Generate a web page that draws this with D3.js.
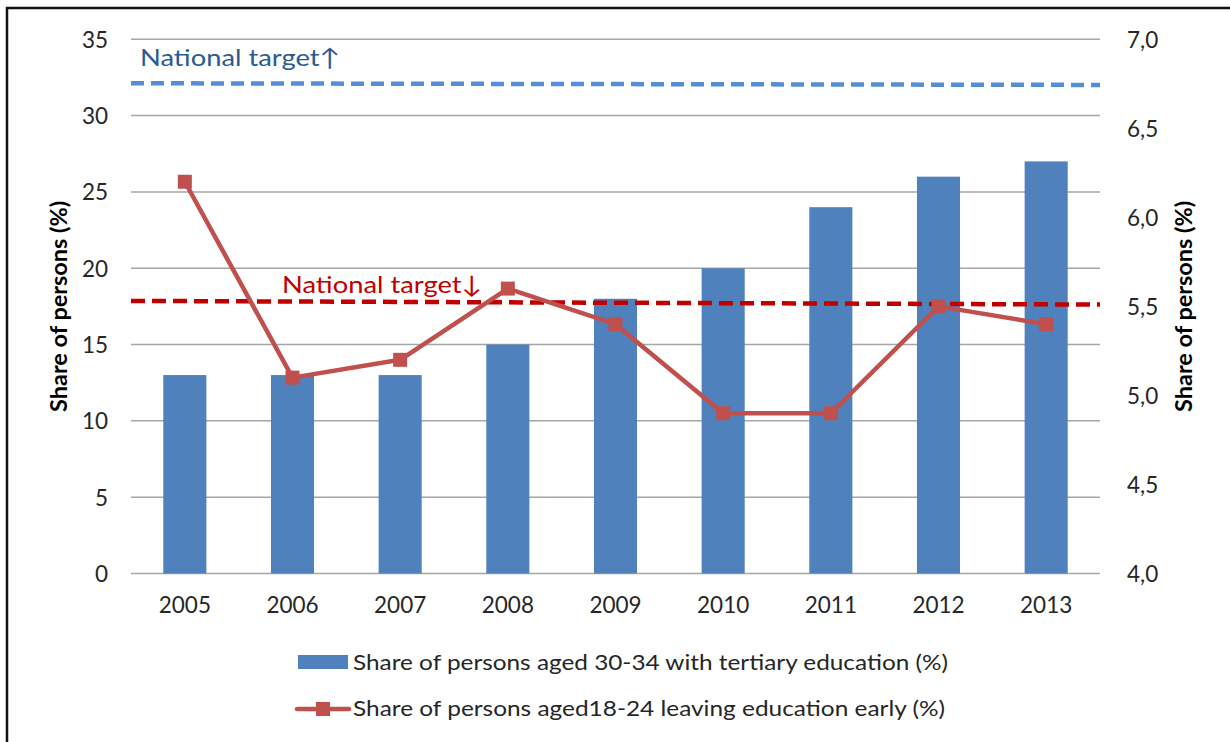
<!DOCTYPE html>
<html><head><meta charset="utf-8">
<script src="https://cdn.jsdelivr.net/npm/d3@7"></script>
<style>body{margin:0;background:#fff}svg{display:block}text{font-family:Lato,"Open Sans",sans-serif}</style>
</head><body><svg id="c" width="1230" height="742"></svg>
<script>
const years = ["2005","2006","2007","2008","2009","2010","2011","2012","2013"];
const tertiary = [13,13,13,15,18,20,24,26,27];
const earlyLeaving = [6.2,5.1,5.2,5.6,5.4,4.9,4.9,5.5,5.4];
const leftTicks = [0,5,10,15,20,25,30,35];
const rightTicks = [4.0,4.5,5.0,5.5,6.0,6.5,7.0];
const targetUp = [32.12,32.01];   // national target (tertiary), left axis
const targetDown = [17.86,17.62]; // national target (early leaving), left axis
const legendLabels = ["Share of persons aged 30-34 with tertiary education (%)","Share of persons aged18-24 leaving education early (%)"];
const axisTitle = "Share of persons (%)";

const svg = d3.select("#c");
const L=131, R=1100, T=39.3, B=573.5;
const x = d3.scaleBand().domain(years).range([L,R]).paddingInner(0.6).paddingOuter(0.3);
const yL = d3.scaleLinear().domain([0,35]).range([B,T]);
const yR = d3.scaleLinear().domain([4,7]).range([B,T]);
const txt="#262626";

// frame
svg.append("line").attr("x1",7).attr("x2",7).attr("y1",7).attr("y2",742).attr("stroke","#111").attr("stroke-width",2.5);
svg.append("line").attr("x1",6).attr("x2",1230).attr("y1",8).attr("y2",8).attr("stroke","#111").attr("stroke-width",2.5);

// gridlines
svg.append("g").selectAll("line").data(leftTicks).join("line")
  .attr("x1",L).attr("x2",R).attr("y1",d=>yL(d)).attr("y2",d=>yL(d))
  .attr("stroke","#A6A6A6").attr("stroke-width",1.5);

// left axis
const ga = svg.append("g").attr("transform",`translate(${L},0)`)
  .call(d3.axisLeft(yL).tickValues(leftTicks).tickSize(0).tickPadding(23));
ga.select(".domain").remove();
ga.selectAll("text").attr("font-size",22.5).attr("fill",txt).attr("font-family","Lato").attr("dy","0.35em");

// right axis
const gr = svg.append("g").attr("transform",`translate(${R},0)`)
  .call(d3.axisRight(yR).tickValues(rightTicks).tickSize(0).tickPadding(27).tickFormat(d=>d3.format(".1f")(d).replace(".",",")));
gr.select(".domain").remove();
gr.selectAll("text").attr("font-size",22.5).attr("fill",txt).attr("font-family","Lato").attr("dy","0.35em");

// x axis
const gx = svg.append("g").attr("transform",`translate(0,${B})`)
  .call(d3.axisBottom(x).tickSize(0).tickPadding(24));
gx.select(".domain").remove();
gx.selectAll("text").attr("font-size",22.5).attr("fill",txt).attr("font-family","Lato").attr("dy","0.71em");

// bars
svg.append("g").selectAll("rect").data(tertiary).join("rect")
  .attr("x",(d,i)=>x(years[i])).attr("width",x.bandwidth())
  .attr("y",d=>yL(d)).attr("height",d=>B-yL(d)).attr("fill","#4F81BD");

// target lines
svg.append("line").attr("x1",L).attr("x2",R).attr("y1",yL(targetUp[0])).attr("y2",yL(targetUp[1]))
  .attr("stroke","#558ED5").attr("stroke-width",4.5).attr("stroke-dasharray","13,7");
svg.append("line").attr("x1",L).attr("x2",R).attr("y1",yL(targetDown[0])).attr("y2",yL(targetDown[1]))
  .attr("stroke","#C00000").attr("stroke-width",4.5).attr("stroke-dasharray","14,7");

svg.append("text").attr("x",140).attr("y",66).attr("font-size",24).attr("fill","#2A5A94")
  .attr("textLength",200).attr("lengthAdjust","spacingAndGlyphs").text("National target\u2191");
svg.append("text").attr("x",282).attr("y",293).attr("font-size",24).attr("fill","#C00000")
  .attr("textLength",200).attr("lengthAdjust","spacingAndGlyphs").text("National target\u2193");

// red line
const cx = i => x(years[i])+x.bandwidth()/2;
svg.append("path").datum(earlyLeaving)
  .attr("d",d3.line().x((d,i)=>cx(i)).y(d=>yR(d)))
  .attr("fill","none").attr("stroke","#C0504D").attr("stroke-width",4.5).attr("stroke-linejoin","round");
svg.append("g").selectAll("rect").data(earlyLeaving).join("rect")
  .attr("x",(d,i)=>cx(i)-7).attr("y",d=>yR(d)-7).attr("width",14).attr("height",14).attr("fill","#C0504D");

// axis titles
svg.append("text").attr("transform",`translate(67,${(T+B)/2}) rotate(-90)`).attr("text-anchor","middle")
  .attr("font-size",22).attr("font-weight","bold").attr("fill","#000")
  .attr("textLength",211).attr("lengthAdjust","spacingAndGlyphs").text(axisTitle);
svg.append("text").attr("transform",`translate(1192,${(T+B)/2}) rotate(-90)`).attr("text-anchor","middle")
  .attr("font-size",22).attr("font-weight","bold").attr("fill","#000")
  .attr("textLength",211).attr("lengthAdjust","spacingAndGlyphs").text(axisTitle);

// legend
svg.append("rect").attr("x",298).attr("y",655).attr("width",50).attr("height",14).attr("fill","#4F81BD");
svg.append("text").attr("x",353).attr("y",670).attr("font-size",22).attr("fill",txt)
  .attr("textLength",595).attr("lengthAdjust","spacingAndGlyphs").text(legendLabels[0]);
svg.append("line").attr("x1",297).attr("x2",349).attr("y1",709).attr("y2",709).attr("stroke","#C0504D").attr("stroke-width",4.5).attr("stroke-linecap","round");
svg.append("rect").attr("x",316).attr("y",702).attr("width",14).attr("height",14).attr("fill","#C0504D");
svg.append("text").attr("x",353).attr("y",716).attr("font-size",22).attr("fill",txt)
  .attr("textLength",592).attr("lengthAdjust","spacingAndGlyphs").text(legendLabels[1]);
</script></body></html>
